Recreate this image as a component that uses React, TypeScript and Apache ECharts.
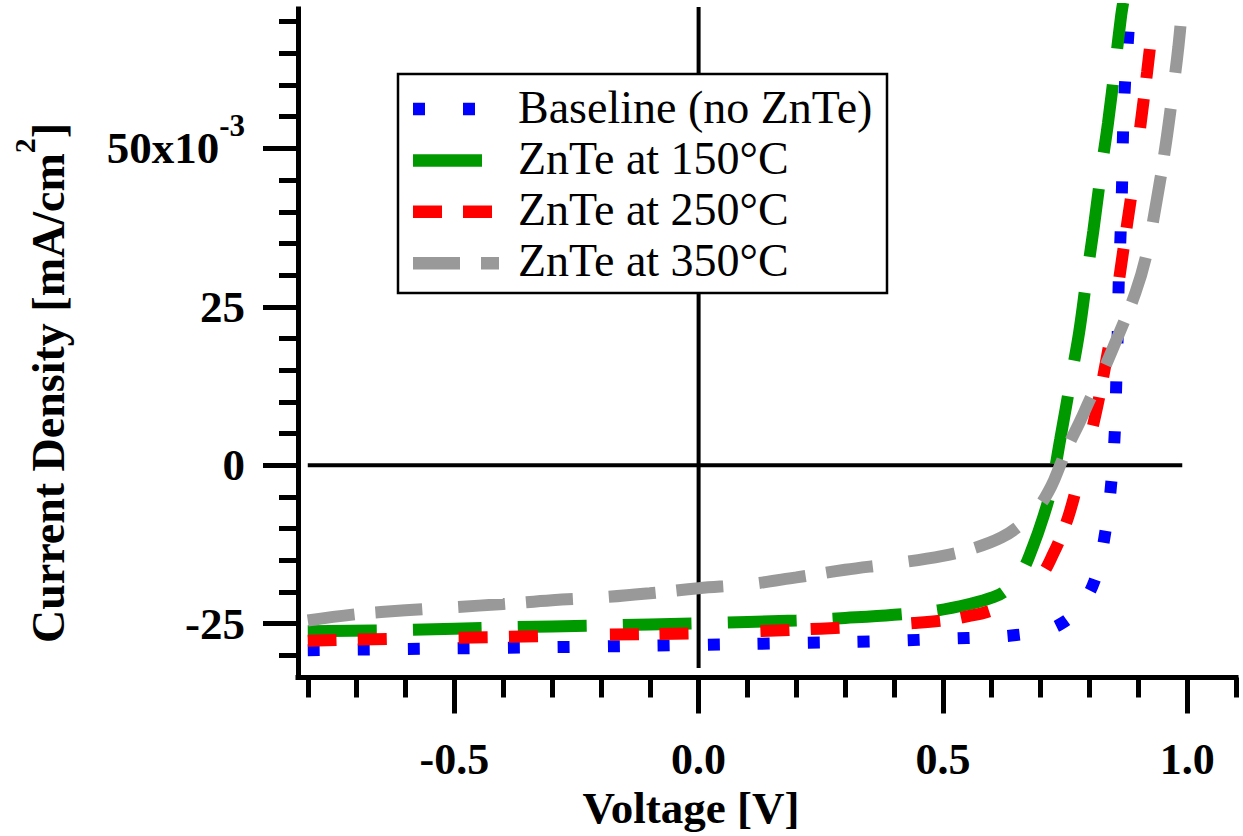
import React, { useEffect, useRef } from "react";
import * as echarts from "echarts";

const FONT = "Liberation Serif";

// Tick values
const voltageMajorTicks = [-0.5, 0, 0.5, 1.0];
const voltageMinorTicks = [-0.8, -0.7, -0.6, -0.4, -0.3, -0.2, -0.1, 0.1, 0.2, 0.3, 0.4, 0.6, 0.7, 0.8, 0.9, 1.1];
const currentMajorTicks = [-25, 0, 25, 50];
const currentMinorTicks = [-30, -20, -15, -10, -5, 5, 10, 15, 20, 30, 35, 40, 45, 55, 60, 65, 70];

// Series names
const seriesNames = ["Baseline (no ZnTe)", "ZnTe at 150°C", "ZnTe at 250°C", "ZnTe at 350°C"];
const seriesColors = ["#0000ff", "#009900", "#ff0000", "#999999"];
const seriesDashes = [[12, 38], [69, 36], [29, 21, 29, 72], [47, 21, 47, 36]];

// Baseline (no ZnTe)
const baselineV = [-0.8, -0.6, -0.4, -0.2, 0, 0.2, 0.4, 0.5, 0.6, 0.65, 0.7, 0.74, 0.775, 0.81, 0.833, 0.845, 0.852, 0.855, 0.858, 0.86, 0.864, 0.867, 0.869, 0.873, 0.88, 0.883];
const baselineJ = [-29.2, -29.0, -28.8, -28.6, -28.35, -28.05, -27.7, -27.4, -27.1, -26.8, -26.2, -25.1, -22.8, -18.3, -10.3, -2.5, 5.4, 13.3, 21, 29, 37, 45, 53, 60.5, 68.4, 72.5];

// ZnTe at 150°C
const znte150V = [-0.8, -0.6, -0.4, -0.2, 0, 0.2, 0.3, 0.4, 0.49, 0.56, 0.6, 0.628, 0.66, 0.684, 0.705, 0.722, 0.74, 0.763, 0.779, 0.795, 0.808, 0.825, 0.838, 0.854, 0.865, 0.869];
const znte150J = [-26.2, -26.0, -25.6, -25.3, -24.95, -24.5, -24.1, -23.6, -22.9, -21.8, -20.9, -19.8, -17.0, -12.9, -8.3, -3.6, 4, 14, 21, 30, 37, 47, 54, 64, 71, 73];

// ZnTe at 250°C
const znte250V = [-0.8, -0.6, -0.4, -0.2, 0, 0.2, 0.3, 0.44, 0.5, 0.54, 0.6, 0.65, 0.7, 0.727, 0.751, 0.765, 0.78, 0.8, 0.818, 0.838, 0.848, 0.862, 0.877, 0.892, 0.905, 0.918, 0.93, 0.934];
const znte250J = [-27.7, -27.35, -27.1, -26.75, -26.5, -25.95, -25.6, -24.9, -24.5, -24.0, -22.9, -21.0, -17.5, -13.8, -9.4, -6.0, -1.5, 4.0, 10, 18, 22, 30, 38, 46, 54, 62, 70, 72.5];

// ZnTe at 350°C
const znte350V = [-0.8, -0.7, -0.6, -0.5, -0.4, -0.3, -0.2, -0.1, 0, 0.1, 0.2, 0.3, 0.4, 0.5, 0.567, 0.62, 0.659, 0.694, 0.722, 0.74, 0.756, 0.78, 0.8, 0.826, 0.858, 0.894, 0.916, 0.937, 0.955, 0.97, 0.982, 0.99];
const znte350J = [-24.5, -23.5, -22.9, -22.4, -21.9, -21.3, -20.85, -20.2, -19.4, -18.8, -17.7, -16.5, -15.5, -14.3, -13.0, -11.4, -9.4, -6.8, -3.3, 0, 3.0, 6.8, 10.2, 14.5, 20.3, 27.2, 33, 41.5, 50, 58.5, 66, 72.5];

// Zero reference lines
const zeroVerticalLine = [[0, -32], [0, 73]];
const zeroHorizontalLine = [[-0.8, 0], [0.99, 0]];

const zip = (xs: number[], ys: number[]) => xs.map((x, i) => [x, ys[i]]);

const seriesV = [baselineV, znte150V, znte250V, znte350V];
const seriesJ = [baselineJ, znte150J, znte250J, znte350J];

export default function App() {
  const ref = useRef<HTMLDivElement>(null);

  useEffect(() => {
    if (!ref.current) return;
    const chart = echarts.init(ref.current, null, { renderer: "svg" });

    const labelBase = { fontFamily: FONT, fontWeight: "bold", color: "#000" };

    const dataSeries = seriesNames.map((name, i) => ({
      name,
      type: "line",
      data: zip(seriesV[i], seriesJ[i]),
      showSymbol: false,
      symbol: "none",
      smooth: 0.4,
      z: 3 + i,
      lineStyle: { color: seriesColors[i], width: 12, type: seriesDashes[i], cap: "butt" },
      silent: true,
    }));

    const refLines = [zeroVerticalLine, zeroHorizontalLine].map((d, i) => ({
      name: "zero" + i,
      type: "line",
      data: d,
      showSymbol: false,
      symbol: "none",
      z: 2,
      silent: true,
      lineStyle: { color: "#000", width: 4, type: "solid" },
    }));

    const legendGraphics: any[] = [
      {
        type: "rect",
        z: 100,
        shape: { x: 398, y: 74, width: 489, height: 219 },
        style: { fill: "#fff", stroke: "#000", lineWidth: 2.5 },
      },
    ];
    seriesNames.forEach((name, i) => {
      const iy = 109 + i * 51.4;
      legendGraphics.push({
        type: "line",
        z: 101,
        shape: { x1: 413, y1: iy, x2: 499, y2: iy },
        style: { stroke: seriesColors[i], lineWidth: 12.5, lineDash: seriesDashes[i], lineCap: "butt" },
      });
      legendGraphics.push({
        type: "text",
        z: 101,
        x: 518,
        y: 107 + i * 51.2,
        style: {
          text: name,
          fontFamily: FONT,
          fontSize: 46,
          fill: "#000",
          align: "left",
          verticalAlign: "middle",
        },
      });
    });

    const option: any = {
      animation: false,
      backgroundColor: "#fff",
      grid: { left: 298, top: 9, width: 938, height: 668.5, containLabel: false },
      xAxis: [
        {
          type: "value",
          min: -0.82,
          max: 1.1,
          position: "bottom",
          splitLine: { show: false },
          axisLine: { show: true, onZero: false, lineStyle: { color: "#000", width: 5, cap: "square" } },
          axisTick: { show: true, customValues: voltageMajorTicks, length: 36, lineStyle: { color: "#000", width: 5 } },
          axisLabel: {
            show: true,
            customValues: voltageMajorTicks,
            formatter: (v: number) => v.toFixed(1),
            ...labelBase,
            fontSize: 44,
            margin: 60,
          },
        },
        {
          type: "value",
          min: -0.82,
          max: 1.1,
          position: "bottom",
          splitLine: { show: false },
          axisLine: { show: false, onZero: false },
          axisTick: { show: true, customValues: voltageMinorTicks, length: 20, lineStyle: { color: "#000", width: 5 } },
          axisLabel: { show: false },
        },
      ],
      yAxis: [
        {
          type: "value",
          min: -33.5,
          max: 72,
          position: "left",
          splitLine: { show: false },
          axisLine: { show: true, onZero: false, lineStyle: { color: "#000", width: 5, cap: "square" } },
          axisTick: { show: true, customValues: currentMajorTicks, length: 35, lineStyle: { color: "#000", width: 5 } },
          axisLabel: {
            show: true,
            customValues: currentMajorTicks,
            margin: 53,
            formatter: (v: number) => (v === 50 ? "{a|50x10}{b|-3}" : "{a|" + v + "}"),
            rich: {
              a: { ...labelBase, fontSize: 45, lineHeight: 76 },
              b: { ...labelBase, fontSize: 31, lineHeight: 31, verticalAlign: "top" },
            },
          },
        },
        {
          type: "value",
          min: -33.5,
          max: 72,
          position: "left",
          splitLine: { show: false },
          axisLine: { show: false, onZero: false },
          axisTick: { show: true, customValues: currentMinorTicks, length: 19, lineStyle: { color: "#000", width: 5 } },
          axisLabel: { show: false },
        },
      ],
      graphic: [
        {
          type: "text",
          z: 100,
          x: 691,
          y: 808,
          style: {
            text: "Voltage [V]",
            fontFamily: FONT,
            fontWeight: "bold",
            fontSize: 45,
            fill: "#000",
            align: "center",
            verticalAlign: "middle",
          },
        },
        {
          type: "text",
          z: 100,
          x: 48,
          y: 383,
          rotation: Math.PI / 2,
          style: {
            text: "{a|Current Density [mA/cm}{b|2}{a|]}",
            align: "center",
            verticalAlign: "middle",
            rich: {
              a: { fontFamily: FONT, fontWeight: "bold", fontSize: 46, lineHeight: 78, fill: "#000" },
              b: { fontFamily: FONT, fontWeight: "bold", fontSize: 30, lineHeight: 30, verticalAlign: "top", fill: "#000" },
            },
          },
        },
        ...legendGraphics,
      ],
      series: [...refLines, ...dataSeries],
    };

    chart.setOption(option);
    return () => chart.dispose();
  }, []);

  return (
    <div
      ref={ref}
      style={{ position: "fixed", left: 0, top: 0, width: 1243, height: 836, background: "#fff" }}
    />
  );
}
